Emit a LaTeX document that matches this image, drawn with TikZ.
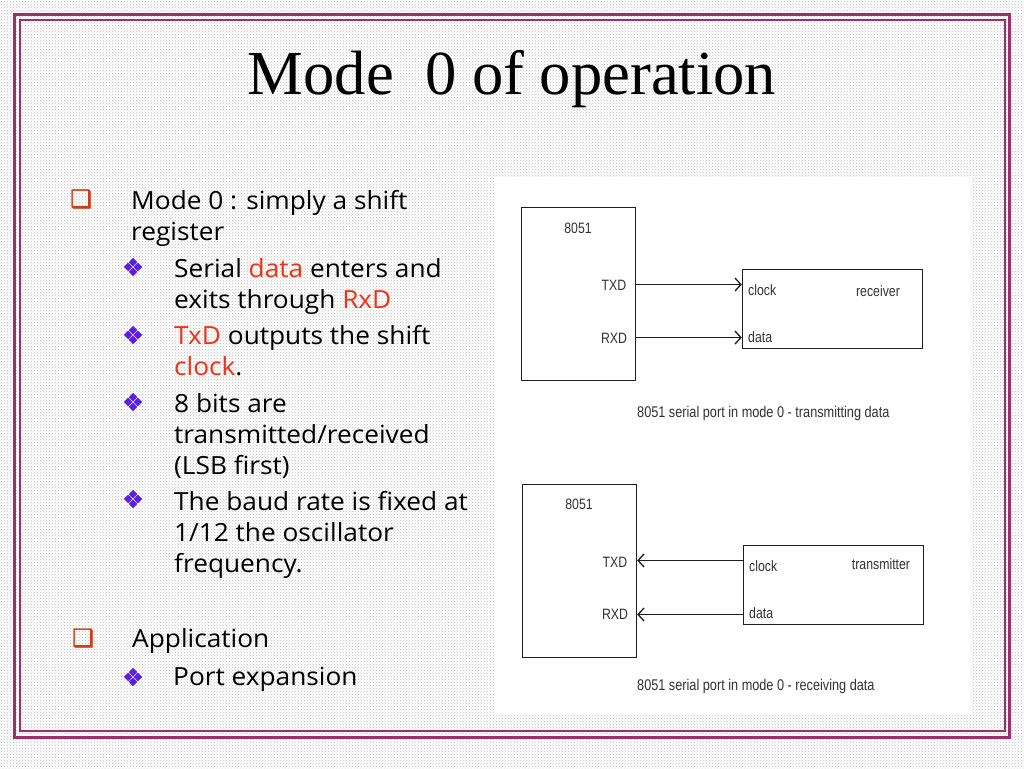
\documentclass[tikz,border=0pt]{standalone}
\usepackage{fontspec}
\setmainfont{Liberation Serif}
\newfontfamily\bodyfont[FakeStretch=1.05]{Open Sans}
\newfontfamily\figfont[FakeStretch=0.82]{Liberation Sans}
\newfontfamily\markfont[FakeBold=1.5]{DejaVu Sans}
\usetikzlibrary{patterns,arrows.meta}
\definecolor{framecol}{RGB}{150,50,105}
\definecolor{redword}{RGB}{240,50,20}
\definecolor{squarecol}{RGB}{205,60,20}
\definecolor{diamondcol}{RGB}{90,30,230}
\definecolor{specklecol}{RGB}{190,190,190}
\definecolor{figline}{RGB}{30,30,30}
\definecolor{figtext}{RGB}{50,50,50}
\newcommand{\red}[1]{\textcolor{redword}{#1}}
\tikzset{
  bodytext/.style={anchor=north west, inner sep=0pt, align=left, font=\bodyfont\fontsize{25}{31}\selectfont},
  bigsquare/.style={anchor=center, inner sep=0pt, text=squarecol, font=\markfont\fontsize{24}{24}\selectfont},
  smalldiamond/.style={anchor=center, inner sep=0pt, text=diamondcol, font=\markfont\fontsize{24}{24}\selectfont},
  chipbox/.style={draw=figline, line width=1.3pt, fill=white, minimum width=114pt, minimum height=173pt, inner sep=0pt},
  devbox/.style={draw=figline, line width=1.3pt, fill=white, minimum width=180pt, minimum height=79pt, inner sep=0pt},
  figlabel/.style={inner sep=0pt, text=figtext, font=\figfont\fontsize{15}{15}\selectfont},
  figcaption/.style={anchor=west, inner sep=0pt, text=figtext, font=\figfont\fontsize{15.5}{15.5}\selectfont},
  wire/.style={draw=figline, line width=1.3pt, -{Straight Barb[length=6pt,width=13pt]}},
}
\begin{document}
\begin{tikzpicture}[x=1pt, y=-1pt]
\useasboundingbox (0,0) rectangle (1024,768);
\fill[white] (0,0) rectangle (1024,768);
\fill[pattern=crosshatch dots, pattern color=specklecol] (0,0) rectangle (1024,768);
% frame
\draw[framecol, line width=3pt] (14.5,14.5) rectangle (1009.5,737);
\draw[framecol, line width=2.5pt] (20,20) rectangle (1005,731);
% title
\node[inner sep=0pt, font=\fontsize{62.6}{62.6}\selectfont] (title) at (512,79.5) {Mode\ \ 0 of operation};
% left column
\node[bigsquare] (sqa) at (81,199) {❑};
\node[bodytext] (modezero) at (131,190) {Mode 0 : simply a shift\\register};
\node[smalldiamond] (dia) at (133,267) {❖};
\node[bodytext] (serial) at (174,258) {Serial \red{data} enters and\\exits through \red{RxD}};
\node[smalldiamond] (dib) at (133,335) {❖};
\node[bodytext] (txd) at (174,325) {\red{TxD} outputs the shift\\\red{clock}.};
\node[smalldiamond] (dic) at (133,402) {❖};
\node[bodytext] (bits) at (174,393) {8 bits are\\transmitted/received\\(LSB first)};
\node[smalldiamond] (did) at (133,499) {❖};
\node[bodytext] (baud) at (174,491) {The baud rate is fixed at\\1/12 the oscillator\\frequency.};
\node[bigsquare] (sqb) at (83,638) {❑};
\node[bodytext] (appl) at (132,628) {Application};
\node[smalldiamond] (die) at (133,677) {❖};
\node[bodytext] (port) at (173,667) {Port expansion};
% figure panel
\fill[white] (495,177) rectangle (972,714);
% upper figure
\node[chipbox] (chipa) at (578.5,294) {};
\node[devbox] (recv) at (832.5,309) {};
\node[figlabel] at (578,228) {8051};
\node[figlabel] (txda) at (614,285) {TXD};
\node[figlabel] (rxda) at (614,338) {RXD};
\node[figlabel, anchor=west] (clka) at (748,290) {clock};
\node[figlabel, anchor=west] (dataa) at (748,337) {data};
\node[figlabel] at (878,291) {receiver};
\coordinate (aone) at (chipa.east |- 0,284.5);
\coordinate (bone) at (recv.west |- 0,284.5);
\coordinate (atwo) at (chipa.east |- 0,337.5);
\coordinate (btwo) at (recv.west |- 0,337.5);
\draw[wire] (aone) -- (bone);
\draw[wire] (atwo) -- (btwo);
\node[figcaption] (capa) at (637,413) {8051 serial port in mode 0 - transmitting data};
% lower figure
\node[chipbox] (chipb) at (579.5,571) {};
\node[devbox] (trans) at (833.5,585) {};
\node[figlabel] at (579,504.5) {8051};
\node[figlabel] (txdb) at (615,562) {TXD};
\node[figlabel] (rxdb) at (615,614) {RXD};
\node[figlabel, anchor=west] (clkb) at (749,566) {clock};
\node[figlabel, anchor=west] (datab) at (749,613) {data};
\node[figlabel] at (881,564) {transmitter};
\coordinate (cone) at (chipb.east |- 0,560.5);
\coordinate (done) at (trans.west |- 0,560.5);
\coordinate (ctwo) at (chipb.east |- 0,614.5);
\coordinate (dtwo) at (trans.west |- 0,614.5);
\draw[wire] (done) -- (cone);
\draw[wire] (dtwo) -- (ctwo);
\node[figcaption] (capb) at (637,686) {8051 serial port in mode 0 - receiving data};
\end{tikzpicture}
\end{document}
